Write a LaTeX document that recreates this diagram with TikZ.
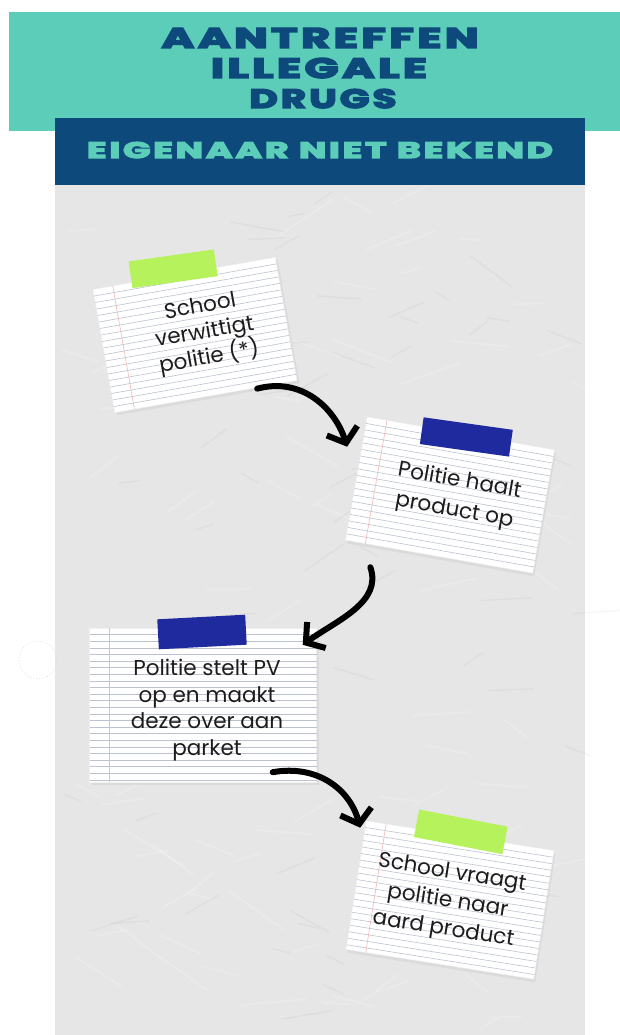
\documentclass[tikz,border=0pt]{standalone}
\usepackage{fontspec}
\usepackage{graphicx}
\setmainfont{Poppins}
\newfontfamily\heavyfont[LetterSpace=8,FakeBold=5,BoldFeatures={FakeBold=5}]{Poppins}
\usetikzlibrary{calc,arrows.meta}
\definecolor{tealband}{HTML}{5CCDB8}
\definecolor{navy}{HTML}{0D4A7B}
\definecolor{panelgray}{HTML}{E6E6E6}
\definecolor{limetape}{HTML}{B6F25C}
\definecolor{bluetape}{HTML}{1F2A9E}
\definecolor{ruleblue}{HTML}{BCC2CE}
\definecolor{marginred}{HTML}{F0B9B9}
\definecolor{inkgray}{HTML}{1C1C1C}
\newcommand\notepaper[3]{%
  \pgfmathsetmacro\nphw{#2/2}\pgfmathsetmacro\nphh{#3/2}%
  \fill[black!14] (-\nphw+2,-\nphh+3) rectangle (\nphw+2,\nphh+3);
  \node[paper, minimum width=#2pt, minimum height=#3pt] (#1) at (0,0) {};
  \pgfmathtruncatemacro\npnl{#3/6.6}%
  \foreach \i in {1,...,\npnl}{\draw[rule line] (-\nphw,-\nphh+\i*6.6) -- (\nphw,-\nphh+\i*6.6);}
  \draw[margin line] (-\nphw+20,-\nphh) -- (-\nphw+20,\nphh);
}
\begin{document}
\begin{tikzpicture}[x=1pt,y=-1pt,
  paper/.style={fill=white, draw=black!6, inner sep=0pt},
  rule line/.style={draw=ruleblue, line width=0.6pt},
  margin line/.style={draw=marginred, line width=0.6pt},
  tape/.style={inner sep=0pt, draw=none},
  notetext/.style={align=center, text=inkgray, inner sep=0pt},
  titletext/.style={text=navy, inner sep=0pt, anchor=base},
  brush/.style={line width=6pt, black, line cap=round,
    -{Straight Barb[length=13pt, width=32pt, line width=6pt]}}]
\useasboundingbox (0,0) rectangle (620,1035);
\fill[white] (0,0) rectangle (620,1035);
% panel
\fill[panelgray] (55,185) rectangle (585,1035);
\pgfmathsetseed{7}
\foreach \k in {1,...,90}{
  \pgfmathsetmacro\px{60+520*rnd}\pgfmathsetmacro\py{190+840*rnd}
  \pgfmathsetmacro\pl{20+50*rnd}\pgfmathsetmacro\pa{-40+80*rnd}
  \draw[white, opacity=0.18, line width=2pt, line cap=round] (\px,\py) -- ++(\pa:\pl);
}
\foreach \k in {1,...,60}{
  \pgfmathsetmacro\px{60+520*rnd}\pgfmathsetmacro\py{190+840*rnd}
  \pgfmathsetmacro\pl{15+40*rnd}\pgfmathsetmacro\pa{-40+80*rnd}
  \draw[black, opacity=0.03, line width=1.5pt, line cap=round] (\px,\py) -- ++(\pa:\pl);
}
\draw[black!12, dotted, line width=0.8pt] (38,660) circle (19);
% header
\fill[tealband] (9,12) rectangle (620,131);
\fill[navy] (55,118) rectangle (585,185);
\node[titletext] (t1) at (320,48) {\resizebox{317pt}{20pt}{\heavyfont\bfseries AANTREFFEN}};
\node[titletext] (t2) at (319,78) {\resizebox{216pt}{20pt}{\heavyfont\bfseries ILLEGALE}};
\node[titletext] (t3) at (323,108) {\resizebox{147pt}{19pt}{\heavyfont\bfseries DRUGS}};
\node[titletext, text=tealband] (sub) at (320,158) {\resizebox{466pt}{16pt}{\heavyfont\bfseries EIGENAAR NIET BEKEND}};
% note 1
\begin{scope}[shift={(195,335)}, rotate=10, transform shape]
  \notepaper{n1}{185}{125}
  \node[tape, fill=limetape, minimum width=86pt, minimum height=27pt, rotate=-2] (tp1) at (-10,-69) {};
  \node[notetext, font=\fontsize{21.5}{26}\selectfont] (x1) at (10,0) {School\\verwittigt\\politie (*)};
\end{scope}
% note 2
\begin{scope}[shift={(450,495)}, rotate=-10, transform shape]
  \notepaper{n2}{190}{125}
  \node[tape, fill=bluetape, minimum width=90pt, minimum height=27pt, rotate=2] (tp2) at (6,-60) {};
  \node[notetext, font=\fontsize{21.5}{30}\selectfont] (x2) at (7,0) {Politie haalt\\product op};
\end{scope}
% note 3
\begin{scope}[shift={(203,705)}]
  \notepaper{n3}{227}{154}
  \node[tape, fill=bluetape, minimum width=88pt, minimum height=30pt, rotate=3] (tp3) at (-1,-73) {};
  \node[notetext, font=\fontsize{21.5}{26.5}\selectfont] (x3) at (4,5) {Politie stelt PV\\op en maakt\\deze over aan\\parket};
\end{scope}
% note 4
\begin{scope}[shift={(450,900)}, rotate=-9, transform shape]
  \notepaper{n4}{190}{130}
  \node[tape, fill=limetape, minimum width=90pt, minimum height=28pt, rotate=-2] (tp4) at (0,-69) {};
  \node[notetext, font=\fontsize{21.5}{28.5}\selectfont] (x4) at (-2,2) {School vraagt\\politie naar\\aard product};
\end{scope}
% arrows
\draw[brush] ($(n1.south east)+(-40,8)$) .. controls +(45,-12) and +(-12,-38) .. ($(n2.north west)+(-20,30)$);
\draw[brush] ($(n2.south west)+(25,27)$) .. controls +(12,35) and +(35,-25) .. ($(n3.north east)+(-14,17)$);
\draw[brush] ($(n3.south east)+(-44,-10)$) .. controls +(45,-8) and +(-10,-38) .. ($(n4.north west)+(-6,7)$);
\end{tikzpicture}
\end{document}
